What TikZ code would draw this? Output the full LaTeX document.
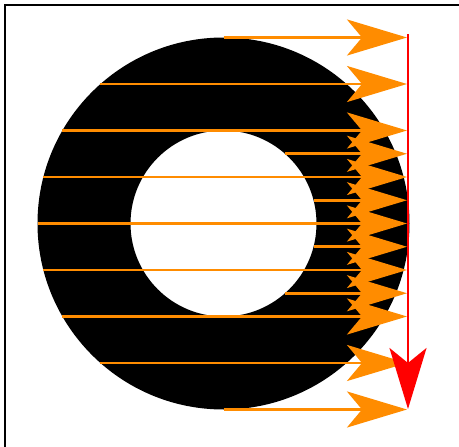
\documentclass[tikz,border=0pt]{standalone}
\usetikzlibrary{arrows.meta}
\definecolor{rayorange}{RGB}{255,140,0}
\begin{document}
\begin{tikzpicture}[x=1pt,y=-1pt,
  frameline/.style={line width=2pt,draw=black},
  ray/.style={draw=rayorange,line width=2.6pt,-{Stealth[length=60pt,width=36pt,inset=15pt]}},
  redarrow/.style={draw=red,line width=2.4pt,-{Stealth[length=61pt,width=37pt,inset=15pt]}}]
\useasboundingbox (0,0) rectangle (459,447);
% frame (top and left edges visible)
\draw[frameline] (4.5,447) -- (4.5,5) -- (459,5);
% annulus
\coordinate (c) at (223.5,223.5);
\fill[black,even odd rule] (c) circle (186pt) (c) circle (93pt);
% rays from outer left edge
\foreach \k in {-4,...,4}{
  \pgfmathsetmacro{\dy}{\k*46.5}
  \pgfmathsetmacro{\sx}{223.5-186*sqrt(1-(\k/4)*(\k/4))}
  \coordinate (o\k) at (\sx,223.5+\dy);
  \coordinate (oe\k) at (407,223.5+\dy);
  \draw[ray] (o\k) -- (oe\k);
}
% rays from inner right edge
\foreach \k in {-3,-1,1,3}{
  \pgfmathsetmacro{\dy}{\k*23.25}
  \pgfmathsetmacro{\sx}{223.5+93*sqrt(1-(\k/4)*(\k/4))}
  \coordinate (i\k) at (\sx,223.5+\dy);
  \coordinate (ie\k) at (407,223.5+\dy);
  \draw[ray] (i\k) -- (ie\k);
}
% red vertical arrow
\coordinate (rtop) at (408,34);
\coordinate (rbot) at (408,409);
\draw[redarrow] (rtop) -- (rbot);
\end{tikzpicture}
\end{document}
